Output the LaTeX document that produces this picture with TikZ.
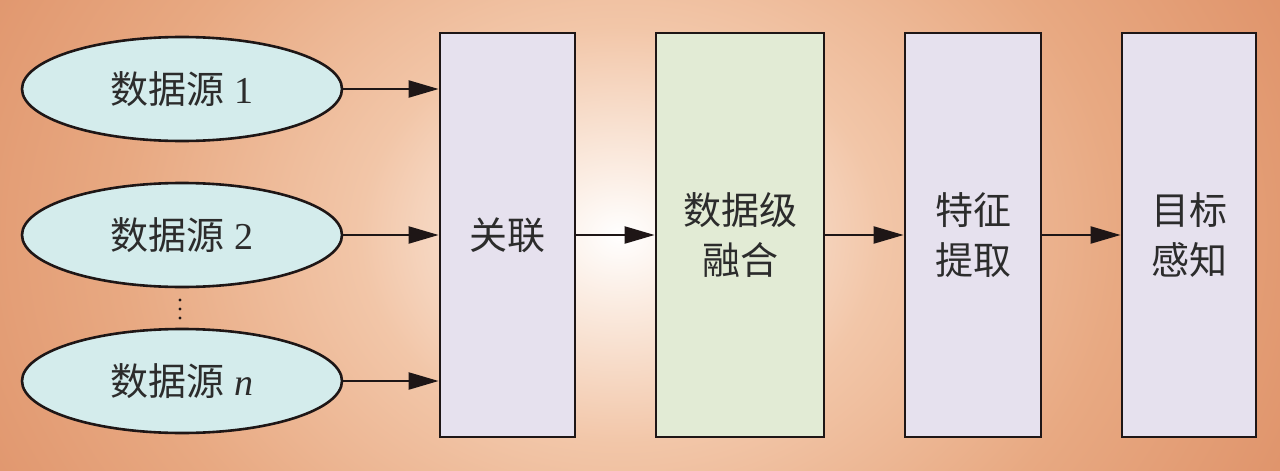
\documentclass[tikz,border=0pt]{standalone}
\usepackage{fontspec}
\setmainfont{Liberation Serif}
\newfontfamily\cjk{Noto Sans CJK SC}
\usetikzlibrary{arrows.meta,shapes.geometric}
\definecolor{bgorange}{HTML}{DF936A}
\definecolor{bgmid}{HTML}{E8A982}
\definecolor{bglight}{HTML}{F2C6A8}
\definecolor{bgpale}{HTML}{FBEDE3}
\definecolor{srcfill}{HTML}{D4ECEC}
\definecolor{boxfill}{HTML}{E6E1EE}
\definecolor{fusefill}{HTML}{E2EBD5}
\definecolor{inkc}{HTML}{1E1616}
\definecolor{txtc}{HTML}{2C2C2C}
\pgfdeclareradialshading{bgshade}{\pgfpoint{0bp}{0bp}}{%
  color(0bp)=(white); color(2bp)=(bgpale); color(6.5bp)=(bglight);
  color(12.5bp)=(bgmid); color(18.5bp)=(bgorange); color(50bp)=(bgorange)}
\tikzset{
  src/.style={ellipse, draw=inkc, line width=1.3pt, fill=srcfill,
    minimum width=160pt, minimum height=52pt, inner sep=0pt,
    font=\fontsize{19}{24}\selectfont, text=txtc},
  stage/.style={rectangle, draw=inkc, line width=1.4pt,
    minimum height=202pt, inner sep=0pt, align=center,
    font=\cjk\fontsize{19}{25}\selectfont, text=txtc},
  flow/.style={draw=inkc, line width=1.1pt, -{Triangle[length=15pt,width=8.5pt]}},
}
\begin{document}
\begin{tikzpicture}[x=0.5pt,y=-0.5pt]
\useasboundingbox (0,0) rectangle (1280,471);
\fill[bgorange] (0,0) rectangle (1280,471);
\begin{scope}
\clip (0,0) rectangle (1280,471);
\shade[shading=bgshade] (620,235) ellipse [x radius=1000, y radius=800];
\end{scope}
\node[src] (s1) at (182,89) {{\cjk 数据源} 1};
\node[src] (s2) at (182,235) {{\cjk 数据源} 2};
\node[src] (sn) at (182,381) {{\cjk 数据源} \textit{n}};
\foreach \yy in {300,309,318} \fill[inkc] (180,\yy) circle [radius=1.6];
\node[stage, fill=boxfill, minimum width=67.5pt] (assoc) at (507.5,235) {关联};
\node[stage, fill=fusefill, minimum width=84pt] (fuse) at (740,235) {数据级\\融合};
\node[stage, fill=boxfill, minimum width=68pt] (feat) at (973,235) {特征\\提取};
\node[stage, fill=boxfill, minimum width=67pt] (perc) at (1189,235) {目标\\感知};
\draw[flow] (s1.east) -- (s1.east -| assoc.west);
\draw[flow] (s2.east) -- (s2.east -| assoc.west);
\draw[flow] (sn.east) -- (sn.east -| assoc.west);
\draw[flow] (assoc.east) -- (fuse.west);
\draw[flow] (fuse.east) -- (feat.west);
\draw[flow] (feat.east) -- (perc.west);
\end{tikzpicture}
\end{document}
